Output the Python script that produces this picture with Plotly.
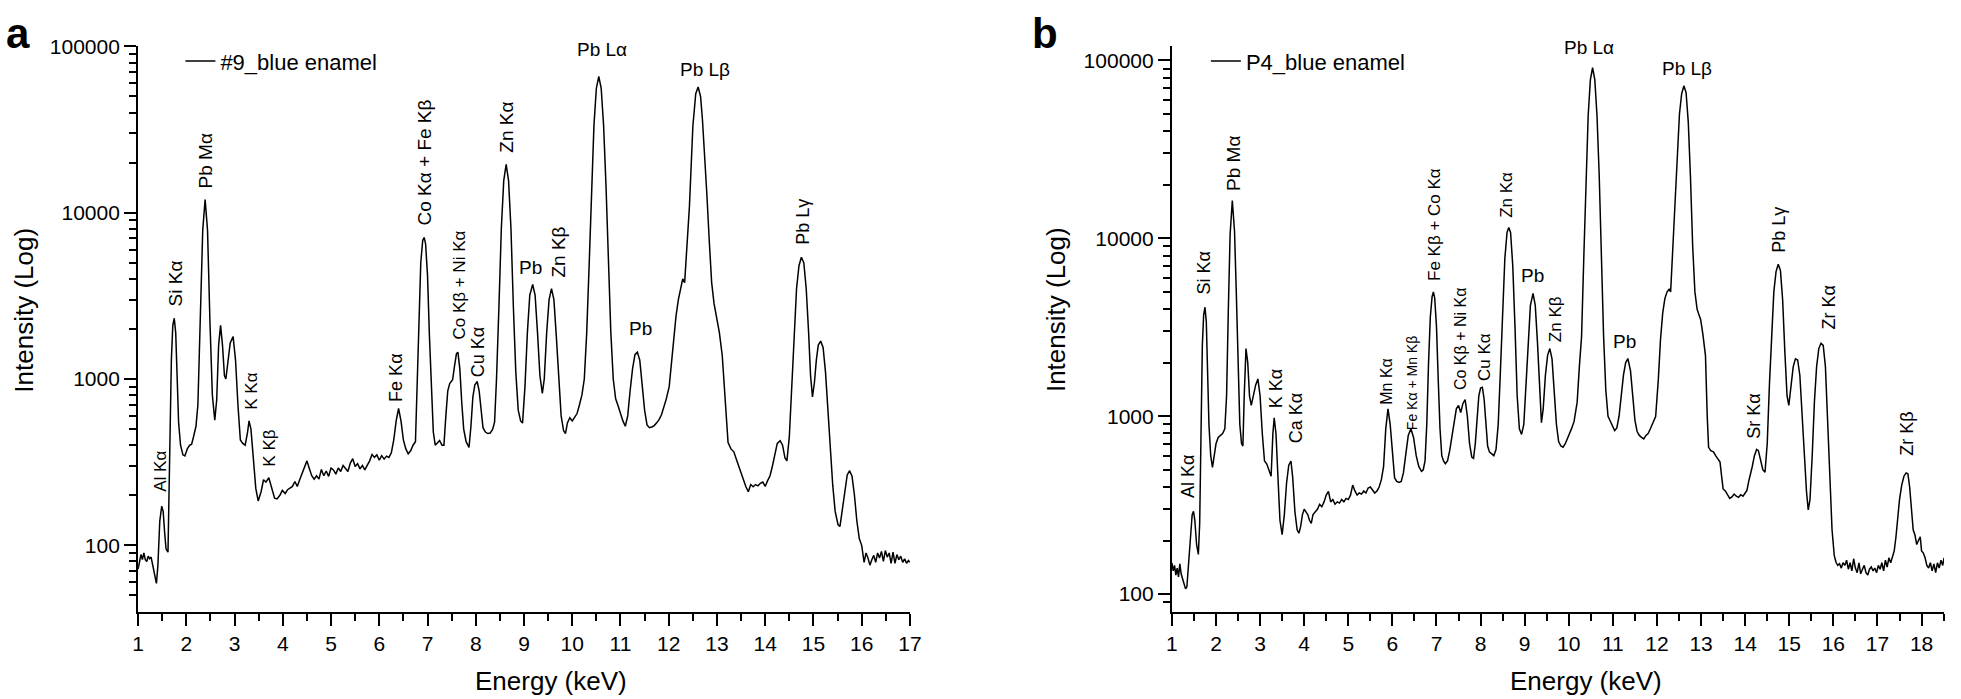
import plotly.graph_objects as go

# ---------------- data: panel a (#9_blue enamel) ----------------
energy_a = [
    1.00, 1.03, 1.06, 1.09, 1.12, 1.15, 1.18, 1.21, 1.24, 1.27,
    1.30, 1.34, 1.38, 1.41, 1.45, 1.49, 1.52, 1.55, 1.58, 1.62,
    1.66, 1.69, 1.72, 1.75, 1.78, 1.81, 1.84, 1.88, 1.93, 1.97,
    2.02, 2.07, 2.11, 2.15, 2.20, 2.24, 2.29, 2.34, 2.39, 2.44,
    2.49, 2.54, 2.59, 2.63, 2.67, 2.71, 2.75, 2.79, 2.82, 2.86,
    2.91, 2.97, 3.02, 3.07, 3.12, 3.17, 3.22, 3.27, 3.30, 3.34,
    3.39, 3.44, 3.49, 3.55, 3.60, 3.65, 3.71, 3.77, 3.83, 3.88,
    3.94, 3.99, 4.05, 4.10, 4.15, 4.20, 4.25, 4.30, 4.35, 4.40,
    4.45, 4.50, 4.55, 4.60, 4.65, 4.70, 4.75, 4.80, 4.85, 4.90,
    4.95, 5.00, 5.05, 5.10, 5.15, 5.20, 5.25, 5.30, 5.35, 5.40,
    5.45, 5.50, 5.55, 5.60, 5.65, 5.70, 5.75, 5.80, 5.85, 5.90,
    5.95, 6.00, 6.05, 6.10, 6.15, 6.20, 6.25, 6.30, 6.35, 6.40,
    6.45, 6.50, 6.55, 6.60, 6.65, 6.70, 6.75, 6.78, 6.82, 6.86,
    6.90, 6.93, 6.96, 7.00, 7.04, 7.08, 7.12, 7.16, 7.20, 7.25,
    7.30, 7.34, 7.38, 7.42, 7.46, 7.52, 7.56, 7.60, 7.63, 7.67,
    7.71, 7.75, 7.80, 7.86, 7.90, 7.94, 7.98, 8.03, 8.07, 8.11,
    8.15, 8.20, 8.25, 8.30, 8.35, 8.39, 8.43, 8.48, 8.53, 8.58,
    8.63, 8.68, 8.73, 8.78, 8.83, 8.88, 8.93, 8.97, 9.02, 9.07,
    9.12, 9.18, 9.23, 9.28, 9.33, 9.38, 9.42, 9.47, 9.52, 9.57,
    9.62, 9.67, 9.72, 9.77, 9.82, 9.86, 9.90, 9.95, 10.00, 10.05,
    10.10, 10.15, 10.20, 10.25, 10.30, 10.35, 10.40, 10.45, 10.50, 10.55,
    10.60, 10.65, 10.70, 10.75, 10.80, 10.85, 10.90, 10.95, 11.00, 11.05,
    11.10, 11.15, 11.20, 11.25, 11.30, 11.35, 11.40, 11.45, 11.50, 11.55,
    11.60, 11.65, 11.70, 11.75, 11.80, 11.85, 11.90, 11.95, 12.01, 12.06,
    12.10, 12.15, 12.20, 12.25, 12.29, 12.33, 12.37, 12.43, 12.50, 12.56,
    12.61, 12.66, 12.70, 12.74, 12.79, 12.84, 12.89, 12.94, 13.00, 13.05,
    13.11, 13.17, 13.23, 13.29, 13.35, 13.40, 13.45, 13.50, 13.55, 13.60,
    13.65, 13.70, 13.75, 13.80, 13.85, 13.90, 13.95, 14.00, 14.05, 14.10,
    14.15, 14.20, 14.25, 14.31, 14.36, 14.41, 14.45, 14.50, 14.55, 14.60,
    14.65, 14.70, 14.75, 14.80, 14.85, 14.90, 14.94, 14.98, 15.02, 15.06,
    15.10, 15.15, 15.20, 15.25, 15.30, 15.35, 15.40, 15.45, 15.51, 15.55,
    15.59, 15.64, 15.70, 15.75, 15.80, 15.85, 15.90, 15.95, 16.00, 16.05,
    16.09, 16.13, 16.17, 16.21, 16.25, 16.29, 16.33, 16.37, 16.41, 16.45,
    16.49, 16.53, 16.57, 16.61, 16.65, 16.69, 16.73, 16.77, 16.81, 16.85,
    16.89, 16.93, 16.97, 17.00,
]
counts_a = [
    72, 80, 88, 82, 90, 82, 80, 86, 83, 85,
    76, 66, 59, 75, 140, 172, 160, 120, 95, 91,
    400, 1300, 2100, 2320, 1900, 1000, 550, 400, 350, 345,
    380, 400, 405, 450, 520, 700, 2300, 7800, 12000, 7800,
    2200, 800, 565, 750, 1600, 2100, 1600, 1050, 1000, 1250,
    1650, 1800, 1300, 700, 430, 410, 400, 480, 560, 500,
    330, 220, 185, 210, 248, 240, 255, 220, 192, 190,
    200, 214, 205, 216, 222, 226, 242, 226, 248, 272,
    290, 322, 290, 262, 250, 262, 250, 286, 262, 280,
    260, 292, 284, 268, 292, 278, 302, 288, 278, 312,
    332, 298, 310, 288, 302, 284, 300, 322, 352, 338,
    350, 325, 346, 330, 344, 338, 360, 430, 560, 665,
    560, 430, 380, 355, 370, 400, 420, 800, 2500, 5000,
    6800, 7100, 6500, 4200, 1800, 800, 480, 400, 415, 427,
    400, 400, 600, 850, 940, 990, 1200, 1420, 1450, 1150,
    720, 500, 420, 388, 520, 780, 920, 966, 850, 640,
    510, 480, 470, 473, 500, 550, 1000, 2700, 8000, 15600,
    19500, 15600, 8000, 2700, 1100, 650, 560, 543, 900, 1900,
    3200, 3700, 3200, 1900, 1050, 820, 1000, 1900, 3000, 3500,
    3000, 1800, 950, 600, 490, 470, 545, 585, 560, 590,
    620, 700, 800, 1000, 1900, 4800, 14500, 33500, 56000, 66000,
    56000, 33500, 14500, 4800, 1900, 1000, 760, 690, 620, 560,
    520, 600, 850, 1150, 1400, 1450, 1300, 950, 650, 530,
    510, 515, 525, 545, 570, 610, 680, 760, 900, 1300,
    1700, 2370, 3000, 3600, 4000, 3800, 6000, 11000, 33000, 52000,
    57000, 50000, 36000, 24000, 13000, 6800, 3800, 2840, 2300, 1900,
    1380, 700, 415, 380, 365, 330, 300, 268, 250, 225,
    210, 232, 225, 232, 228, 236, 240, 226, 245, 262,
    300, 360, 410, 426, 400, 335, 322, 450, 900, 2000,
    3500, 4800, 5400, 5000, 3500, 1900, 1050, 780, 950, 1300,
    1600, 1690, 1550, 1100, 650, 380, 230, 160, 133, 130,
    155, 205, 265, 281, 260, 200, 140, 110, 100, 79,
    90, 84, 76, 82, 87, 79, 90, 84, 92, 80,
    93, 85, 90, 78, 91, 78, 88, 82, 86, 79,
    83, 78, 81, 79,
]

# ---------------- data: panel b (P4_blue enamel) ----------------
energy_b = [
    1.00, 1.03, 1.06, 1.09, 1.12, 1.15, 1.18, 1.21, 1.25, 1.28,
    1.31, 1.34, 1.38, 1.42, 1.46, 1.49, 1.52, 1.56, 1.60, 1.63,
    1.66, 1.69, 1.72, 1.75, 1.78, 1.81, 1.84, 1.88, 1.92, 1.96,
    2.00, 2.05, 2.10, 2.15, 2.20, 2.24, 2.28, 2.32, 2.37, 2.42,
    2.46, 2.50, 2.54, 2.58, 2.61, 2.64, 2.68, 2.72, 2.76, 2.80,
    2.85, 2.90, 2.95, 3.00, 3.05, 3.10, 3.15, 3.20, 3.25, 3.29,
    3.32, 3.36, 3.40, 3.45, 3.50, 3.55, 3.60, 3.65, 3.70, 3.74,
    3.79, 3.84, 3.88, 3.92, 3.96, 4.00, 4.04, 4.08, 4.12, 4.16,
    4.20, 4.25, 4.30, 4.35, 4.40, 4.45, 4.50, 4.55, 4.60, 4.65,
    4.70, 4.75, 4.80, 4.85, 4.90, 4.95, 5.00, 5.05, 5.10, 5.15,
    5.20, 5.25, 5.30, 5.35, 5.40, 5.45, 5.50, 5.55, 5.60, 5.65,
    5.70, 5.75, 5.80, 5.85, 5.90, 5.95, 6.00, 6.05, 6.10, 6.15,
    6.20, 6.25, 6.30, 6.36, 6.42, 6.48, 6.54, 6.60, 6.66, 6.70,
    6.74, 6.78, 6.82, 6.86, 6.90, 6.93, 6.96, 7.00, 7.04, 7.08,
    7.12, 7.16, 7.20, 7.25, 7.30, 7.35, 7.40, 7.45, 7.50, 7.55,
    7.60, 7.65, 7.70, 7.75, 7.80, 7.84, 7.88, 7.92, 7.96, 8.00,
    8.04, 8.08, 8.12, 8.16, 8.20, 8.25, 8.30, 8.35, 8.40, 8.45,
    8.50, 8.55, 8.60, 8.64, 8.68, 8.73, 8.78, 8.83, 8.88, 8.93,
    8.98, 9.03, 9.08, 9.13, 9.19, 9.24, 9.29, 9.34, 9.38, 9.42,
    9.47, 9.52, 9.57, 9.62, 9.67, 9.72, 9.77, 9.82, 9.87, 9.92,
    9.97, 10.02, 10.07, 10.12, 10.19, 10.24, 10.29, 10.34, 10.39, 10.44,
    10.49, 10.54, 10.59, 10.64, 10.69, 10.74, 10.79, 10.84, 10.89, 10.94,
    10.99, 11.04, 11.09, 11.14, 11.19, 11.24, 11.29, 11.34, 11.40, 11.45,
    11.50, 11.55, 11.60, 11.65, 11.70, 11.75, 11.80, 11.85, 11.90, 11.97,
    12.03, 12.08, 12.13, 12.18, 12.23, 12.28, 12.31, 12.36, 12.41, 12.46,
    12.51, 12.56, 12.61, 12.66, 12.71, 12.76, 12.81, 12.86, 12.91, 12.94,
    12.99, 13.04, 13.10, 13.14, 13.17, 13.22, 13.28, 13.33, 13.38, 13.43,
    13.47, 13.50, 13.55, 13.60, 13.65, 13.70, 13.75, 13.80, 13.85, 13.90,
    13.95, 14.00, 14.04, 14.08, 14.12, 14.16, 14.21, 14.26, 14.30, 14.35,
    14.40, 14.45, 14.50, 14.55, 14.60, 14.65, 14.70, 14.75, 14.80, 14.85,
    14.90, 14.95, 14.99, 15.04, 15.09, 15.14, 15.19, 15.24, 15.29, 15.34,
    15.39, 15.43, 15.47, 15.52, 15.57, 15.62, 15.67, 15.72, 15.77, 15.82,
    15.87, 15.92, 15.97, 16.02, 16.06, 16.10, 16.14, 16.18, 16.22, 16.26,
    16.30, 16.34, 16.38, 16.42, 16.46, 16.50, 16.54, 16.58, 16.62, 16.66,
    16.70, 16.74, 16.78, 16.82, 16.86, 16.90, 16.94, 16.98, 17.02, 17.06,
    17.10, 17.14, 17.18, 17.22, 17.26, 17.30, 17.34, 17.38, 17.42, 17.46,
    17.50, 17.55, 17.60, 17.65, 17.69, 17.73, 17.77, 17.81, 17.85, 17.89,
    17.93, 17.97, 18.00, 18.04, 18.08, 18.12, 18.16, 18.20, 18.24, 18.28,
    18.32, 18.36, 18.40, 18.44, 18.48, 18.51,
]
counts_b = [
    150, 135, 145, 128, 140, 125, 148, 130, 120, 112,
    107, 110, 150, 220, 280, 292, 260, 190, 167, 250,
    900, 2500, 3700, 4100, 3400, 1900, 900, 600, 515, 600,
    700, 760, 780, 800, 850, 1300, 4000, 10500, 16300, 11000,
    5000, 1800, 900, 700, 680, 1300, 2400, 2000, 1300, 1150,
    1300, 1500, 1620, 1300, 800, 560, 540, 500, 460, 800,
    980, 800, 450, 260, 216, 280, 420, 530, 560, 450,
    290, 230, 220, 240, 280, 300, 290, 280, 260, 250,
    280, 290, 300, 320, 310, 330, 360, 378, 330, 340,
    320, 330, 325, 340, 330, 345, 340, 360, 410, 380,
    360, 370, 365, 380, 370, 395, 400, 385, 370, 380,
    400, 440, 520, 850, 1100, 900, 600, 450, 430, 425,
    430, 480, 600, 780, 850, 760, 600, 520, 490, 500,
    560, 900, 2000, 3600, 4700, 5000, 4600, 3200, 1600, 850,
    600, 560, 540, 560, 640, 780, 950, 1100, 1150, 1050,
    1180, 1240, 1000, 700, 590, 580, 700, 1000, 1300, 1440,
    1455, 1250, 880, 680, 630, 616, 600, 650, 900, 1800,
    4000, 7700, 10800, 11500, 10800, 7000, 3200, 1300, 850, 790,
    900, 1500, 2800, 4200, 4900, 4200, 2600, 1300, 920, 1100,
    1700, 2200, 2400, 2100, 1400, 900, 720, 680, 670, 700,
    750, 800, 860, 935, 1200, 1900, 2800, 7700, 22700, 49000,
    78000, 91000, 78000, 49000, 22700, 7700, 2800, 1400, 1000, 940,
    880, 830, 860, 1000, 1300, 1700, 2000, 2110, 1800, 1300,
    950, 820, 780, 760, 745, 780, 800, 850, 900, 995,
    1600, 2700, 3800, 4600, 5000, 5200, 5000, 9000, 18000, 33000,
    50000, 65000, 72000, 66000, 45000, 22000, 9000, 5000, 4000, 3790,
    3500, 2900, 2190, 1000, 668, 640, 630, 600, 570, 552,
    450, 390, 380, 360, 345, 352, 365, 355, 350, 362,
    355, 370, 383, 430, 470, 520, 600, 650, 640, 560,
    500, 484, 700, 1500, 3000, 5000, 6500, 7150, 6600, 4500,
    2300, 1300, 1150, 1500, 1900, 2100, 2070, 1700, 1050, 600,
    380, 297, 340, 600, 1200, 1900, 2400, 2570, 2500, 1900,
    1000, 450, 230, 165, 151, 145, 148, 140, 150, 145,
    155, 138, 150, 135, 158, 140, 132, 150, 130, 138,
    145, 132, 128, 138, 142, 135, 140, 132, 145, 138,
    150, 135, 155, 142, 160, 150, 165, 175, 210, 270,
    340, 410, 460, 480, 475, 400, 300, 230, 215, 190,
    200, 210, 175, 170, 160, 145, 140, 150, 135, 148,
    132, 150, 140, 155, 145, 160,
]

# ---------------- peak labels: (text, energy keV, log10 intensity, rotated, size) ----------------
labels_a = [
    ("Al Kα", 1.47, 2.447, True, 17),
    ("Si Kα", 1.77, 3.576, True, 19),
    ("Pb Mα", 2.39, 4.309, True, 19),
    ("K Kα", 3.35, 2.926, True, 17),
    ("K Kβ", 3.72, 2.583, True, 17),
    ("Fe Kα", 6.33, 3.008, True, 18),
    ("Co Kα + Fe Kβ", 6.93, 4.303, True, 19),
    ("Co Kβ + Ni Kα", 7.66, 3.564, True, 17),
    ("Cu Kα", 8.05, 3.162, True, 18),
    ("Zn Kα", 8.62, 4.515, True, 19),
    ("Pb", 9.13, 3.670, False, 19),
    ("Zn Kβ", 9.72, 3.765, True, 19),
    ("Pb Lα", 10.62, 4.982, False, 19),
    ("Pb", 11.42, 3.304, False, 19),
    ("Pb Lβ", 12.76, 4.864, False, 19),
    ("Pb Lγ", 14.79, 3.948, True, 18),
]
labels_b = [
    ("Al Kα", 1.37, 2.659, True, 18),
    ("Si Kα", 1.75, 3.808, True, 18),
    ("Pb Mα", 2.40, 4.422, True, 19),
    ("K Kα", 3.38, 3.156, True, 18),
    ("Ca Kα", 3.80, 2.991, True, 18),
    ("Mn Kα", 5.86, 3.195, True, 16),
    ("Fe Kα + Mn Kβ", 6.46, 3.184, True, 14),
    ("Fe Kβ + Co Kα", 6.96, 4.079, True, 17),
    ("Co Kβ + Ni Kα", 7.53, 3.433, True, 16),
    ("Cu Kα", 8.10, 3.333, True, 17),
    ("Zn Kα", 8.60, 4.245, True, 17),
    ("Pb", 9.17, 3.792, False, 19),
    ("Zn Kβ", 9.70, 3.543, True, 17),
    ("Pb Lα", 10.45, 5.074, False, 19),
    ("Pb", 11.26, 3.422, False, 19),
    ("Pb Lβ", 12.69, 4.957, False, 19),
    ("Sr Kα", 14.20, 3.002, True, 18),
    ("Pb Lγ", 14.78, 4.046, True, 18),
    ("Zr Kα", 15.89, 3.609, True, 18),
    ("Zr Kβ", 17.67, 2.902, True, 18),
]

x_ticks_a = list(range(1, 18))
x_ticks_b = list(range(1, 19))
y_major = [100, 1000, 10000, 100000]
y_minor_a = [50, 60, 70, 80, 90] + [m * 100 for m in range(2, 10)] + \
    [m * 1000 for m in range(2, 10)] + [m * 10000 for m in range(2, 10)]
y_minor_b = [90] + [m * 100 for m in range(2, 10)] + \
    [m * 1000 for m in range(2, 10)] + [m * 10000 for m in range(2, 10)]

FONT = "Liberation Sans, Arial, Helvetica, sans-serif"
W, H = 1961, 699

fig = go.Figure()
fig.add_trace(go.Scatter(x=energy_a, y=counts_a, mode="lines", name="#9_blue enamel",
                         line=dict(color="black", width=1.5), xaxis="x", yaxis="y",
                         legend="legend"))
fig.add_trace(go.Scatter(x=energy_b, y=counts_b, mode="lines", name="P4_blue enamel",
                         line=dict(color="black", width=1.5), xaxis="x2", yaxis="y2",
                         legend="legend2"))

def xaxis_cfg(domain, rng, ticks):
    return dict(domain=domain, range=rng, showgrid=False, zeroline=False,
                showline=True, linecolor="black", linewidth=2, mirror=False,
                ticks="outside", ticklen=12, tickwidth=2, tickcolor="black",
                tickvals=ticks, ticktext=[str(t) for t in ticks],
                tickfont=dict(family=FONT, size=21, color="black"),
                minor=dict(ticks="outside", ticklen=7, tickwidth=2, tickcolor="black",
                           dtick=0.5, tick0=0.5, showgrid=False))

def yaxis_cfg(domain, rng, minor_vals):
    return dict(domain=domain, type="log", range=rng, showgrid=False, zeroline=False,
                showline=True, linecolor="black", linewidth=2, mirror=False,
                ticks="outside", ticklen=12, tickwidth=2, tickcolor="black",
                tickvals=y_major, ticktext=[str(v) for v in y_major],
                tickfont=dict(family=FONT, size=21, color="black"),
                minor=dict(ticks="outside", ticklen=7, tickwidth=2, tickcolor="black",
                           tickvals=minor_vals, showgrid=False))

ydom = [(H - 610) / H, (H - 35) / H]
xa = xaxis_cfg([133.3 / W, 912.3 / W], [1, 17], x_ticks_a)
xa["anchor"] = "y"
ya = yaxis_cfg(ydom, [1.602, 5.0], y_minor_a)
ya["anchor"] = "x"
xb = xaxis_cfg([1176.7 / W, 1956 / W], [1, 18.51], x_ticks_b)
xb["anchor"] = "y2"
yb = yaxis_cfg(ydom, [1.902, 5.079], y_minor_b)
yb["anchor"] = "x2"

annotations = []
for xr, yr, labs in (("x", "y", labels_a), ("x2", "y2", labels_b)):
    for text, e, ly, rot, size in labs:
        annotations.append(dict(text=text, x=e, y=ly, xref=xr, yref=yr, showarrow=False,
                                textangle=-90 if rot else 0, xanchor="center", yanchor="middle",
                                font=dict(family=FONT, size=size, color="black")))

# axis titles and panel letters
for txt, x, y, ang in (("Energy (keV)", 550 / W, (H - 681) / H, 0),
                       ("Energy (keV)", 1595 / W, (H - 681) / H, 0),
                       ("Intensity (Log)", 18 / W, (H - 303) / H, -90),
                       ("Intensity (Log)", 1060 / W, (H - 303) / H, -90)):
    annotations.append(dict(text=txt, x=x, y=y, xref="paper", yref="paper", showarrow=False,
                            textangle=ang, xanchor="center", yanchor="middle",
                            font=dict(family=FONT, size=26, color="black")))
for txt, x in (("a", 12 / W), ("b", 1049 / W)):
    annotations.append(dict(text="<b>" + txt + "</b>", x=x, y=(H - 22) / H, xref="paper",
                            yref="paper", showarrow=False, xanchor="center", yanchor="middle",
                            font=dict(family=FONT, size=42, color="black")))

fig.update_layout(
    width=W, height=H, margin=dict(l=0, r=0, t=0, b=0),
    paper_bgcolor="white", plot_bgcolor="white",
    font=dict(family=FONT, color="black"),
    xaxis=xa, yaxis=ya, xaxis2=xb, yaxis2=yb,
    annotations=annotations,
    showlegend=True,
    legend=dict(x=176 / W, y=(H - 50) / H, xanchor="left", yanchor="middle",
                bgcolor="rgba(0,0,0,0)", borderwidth=0,
                font=dict(family=FONT, size=22, color="black")),
    legend2=dict(x=1211 / W, y=(H - 50) / H, xanchor="left", yanchor="middle",
                 bgcolor="rgba(0,0,0,0)", borderwidth=0,
                 font=dict(family=FONT, size=22, color="black")),
)

# pin the figure to the page's top-left corner (no default body margin)
page_fix = (
    "document.documentElement.style.margin='0';"
    "document.body.style.margin='0';document.body.style.overflow='hidden';"
    "var gd=document.getElementById('{plot_id}');"
    "gd.style.position='absolute';gd.style.left='0px';gd.style.top='0px';"
)
fig.write_html("out.html", post_script=page_fix, config={"displayModeBar": False})
